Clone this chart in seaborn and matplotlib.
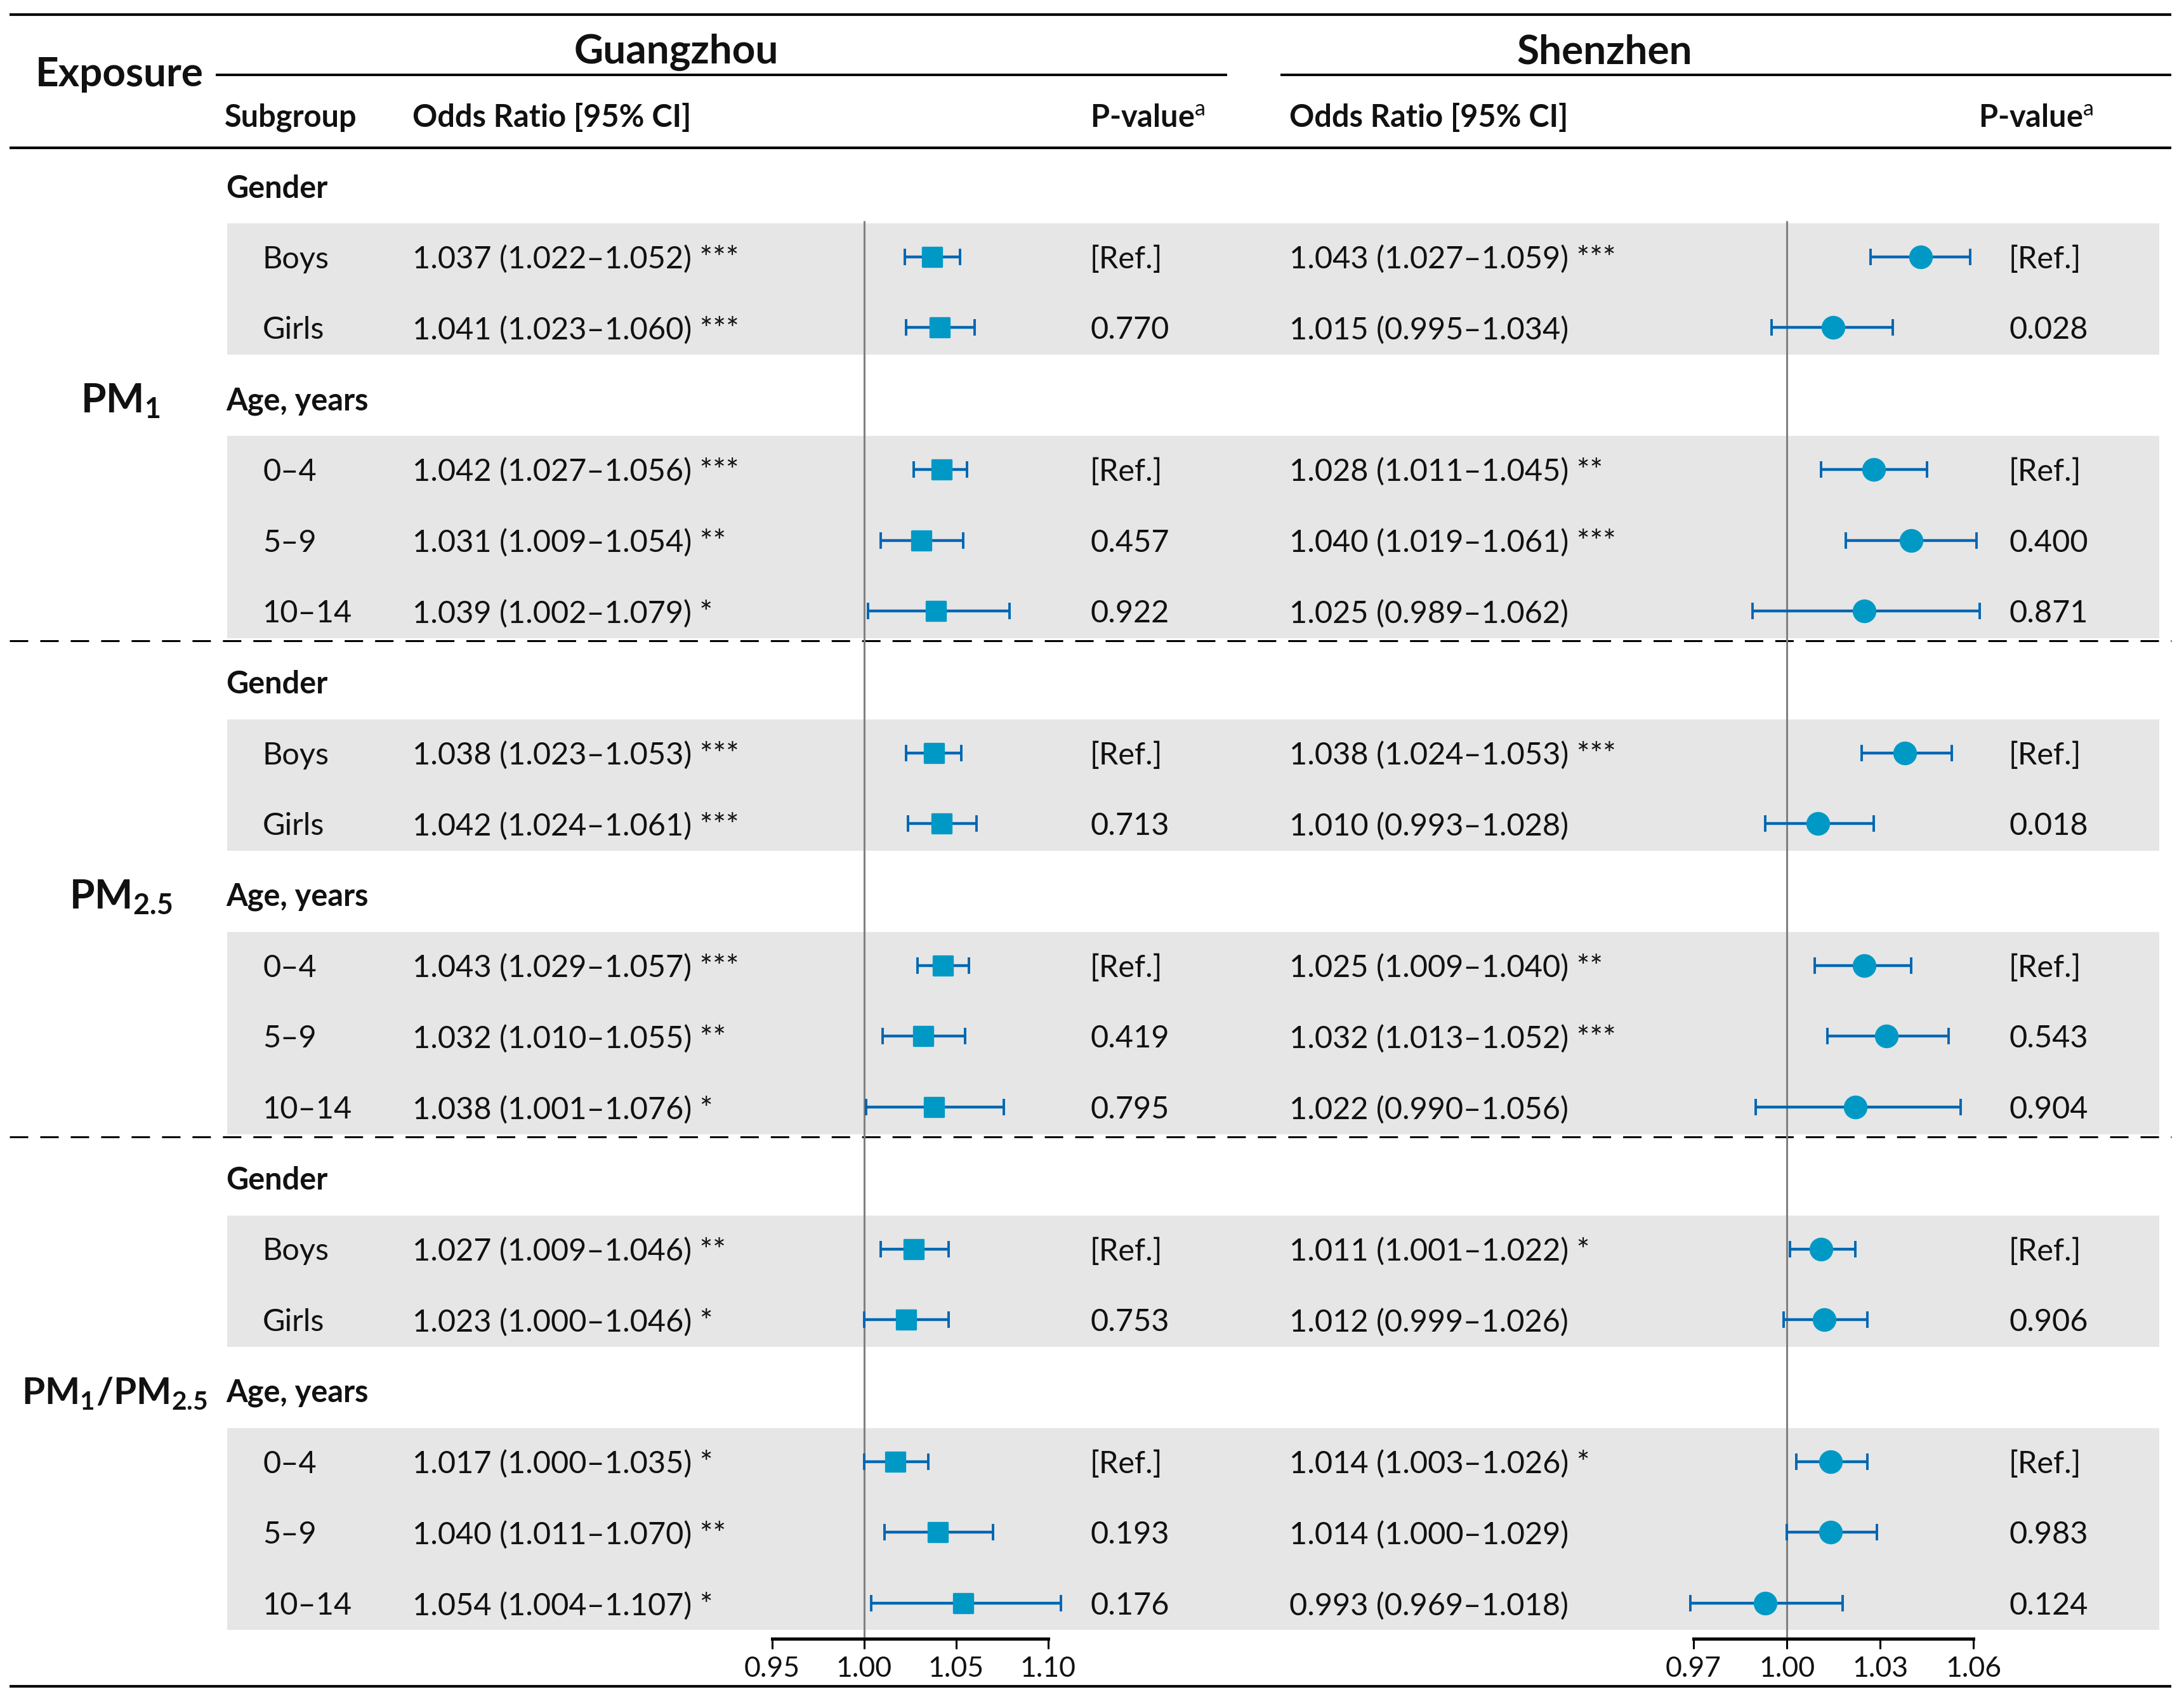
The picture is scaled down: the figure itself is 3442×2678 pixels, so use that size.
import matplotlib
matplotlib.use("Agg")
import matplotlib.pyplot as plt
import seaborn as sns
import pandas as pd
import numpy as np

exposures = [r"$\mathbf{PM_{1}}$", r"$\mathbf{PM_{2.5}}$", r"$\mathbf{PM_{1}/PM_{2.5}}$"]
groups = ["Gender", "Age, years"]
subgroups = ["Boys", "Girls", "0–4", "5–9", "10–14"]

gz_or = [1.037, 1.041, 1.042, 1.031, 1.039,
         1.038, 1.042, 1.043, 1.032, 1.038,
         1.027, 1.023, 1.017, 1.040, 1.054]
gz_lo = [1.022, 1.023, 1.027, 1.009, 1.002,
         1.023, 1.024, 1.029, 1.010, 1.001,
         1.009, 1.000, 1.000, 1.011, 1.004]
gz_hi = [1.052, 1.060, 1.056, 1.054, 1.079,
         1.053, 1.061, 1.057, 1.055, 1.076,
         1.046, 1.046, 1.035, 1.070, 1.107]
gz_sig = ["***", "***", "***", "**", "*",
          "***", "***", "***", "**", "*",
          "**", "*", "*", "**", "*"]
gz_p = ["[Ref.]", "0.770", "[Ref.]", "0.457", "0.922",
        "[Ref.]", "0.713", "[Ref.]", "0.419", "0.795",
        "[Ref.]", "0.753", "[Ref.]", "0.193", "0.176"]

sz_or = [1.043, 1.015, 1.028, 1.040, 1.025,
         1.038, 1.010, 1.025, 1.032, 1.022,
         1.011, 1.012, 1.014, 1.014, 0.993]
sz_lo = [1.027, 0.995, 1.011, 1.019, 0.989,
         1.024, 0.993, 1.009, 1.013, 0.990,
         1.001, 0.999, 1.003, 1.000, 0.969]
sz_hi = [1.059, 1.034, 1.045, 1.061, 1.062,
         1.053, 1.028, 1.040, 1.052, 1.056,
         1.022, 1.026, 1.026, 1.029, 1.018]
sz_sig = ["***", "", "**", "***", "",
          "***", "", "**", "***", "",
          "*", "", "*", "", ""]
sz_p = ["[Ref.]", "0.028", "[Ref.]", "0.400", "0.871",
        "[Ref.]", "0.018", "[Ref.]", "0.543", "0.904",
        "[Ref.]", "0.906", "[Ref.]", "0.983", "0.124"]

gz_ticks = [0.95, 1.00, 1.05, 1.10]
sz_ticks = [0.97, 1.00, 1.03, 1.06]

# ---- layout (pixels of the output image) ----
W, H, DPI = 3442, 2678, 200
ROW0, ROWH = 293, 111.7
TXT_DY = 4                      # nudge text down to sit on the row centre
sub_rows = [1, 2, 4, 5, 6]      # row offset of each subgroup inside a block
TXT = "#111111"
MARK = "#0099C6"
WHISK = "#0066B2"
BAND = "#E6E6E6"


def row_y(r):
    return ROW0 + ROWH * r


def fmt(o, l, h, s):
    return f"{o:.3f} ({l:.3f}–{h:.3f}) {s}".rstrip()


records = []
for e in range(3):
    for k, sg in enumerate(subgroups):
        i = e * 5 + k
        records.append(dict(exposure=e, subgroup=sg, y=row_y(7 * e + sub_rows[k]),
                            gz_or=gz_or[i], gz_lo=gz_lo[i], gz_hi=gz_hi[i],
                            gz_txt=fmt(gz_or[i], gz_lo[i], gz_hi[i], gz_sig[i]), gz_p=gz_p[i],
                            sz_or=sz_or[i], sz_lo=sz_lo[i], sz_hi=sz_hi[i],
                            sz_txt=fmt(sz_or[i], sz_lo[i], sz_hi[i], sz_sig[i]), sz_p=sz_p[i]))
df = pd.DataFrame(records)

sns.set_theme(style="white")
plt.rcParams["font.family"] = ["Lato", "DejaVu Sans"]
plt.rcParams["mathtext.fontset"] = "custom"
plt.rcParams["mathtext.rm"] = "Lato"
plt.rcParams["mathtext.bf"] = "Lato:bold"
plt.rcParams["mathtext.it"] = "Lato:italic"

fig = plt.figure(figsize=(W / DPI, H / DPI), dpi=DPI)
ax = fig.add_axes([0, 0, 1, 1])
ax.set_xlim(0, W)
ax.set_ylim(H, 0)
ax.axis("off")

FS, FS_BIG, FS_TICK = 17.5, 23, 16

# header
ax.hlines([23, 233, 2658], 15, 3422, color="black", lw=1.5)
ax.hlines(118, 340, 1934, color="black", lw=1.4)
ax.hlines(118, 2018, 3422, color="black", lw=1.4)
ax.text(188, 118, "Exposure", ha="center", va="center", fontsize=FS_BIG, weight="bold", color=TXT)
ax.text(1066, 82, "Guangzhou", ha="center", va="center", fontsize=FS_BIG, weight="bold", color=TXT)
ax.text(2529, 82, "Shenzhen", ha="center", va="center", fontsize=FS_BIG, weight="bold", color=TXT)
hdr = dict(va="center", fontsize=FS, weight="bold", color=TXT)
ax.text(354, 185, "Subgroup", **hdr)
ax.text(650, 185, "Odds Ratio [95% CI]", **hdr)
ax.text(1718, 185, r"P-value$^{\mathrm{a}}$", **hdr)
ax.text(2032, 185, "Odds Ratio [95% CI]", **hdr)
ax.text(3118, 185, r"P-value$^{\mathrm{a}}$", **hdr)

# grey bands, group labels, exposure labels, dashed separators
for e in range(3):
    base = 7 * e
    for g, (first, last) in enumerate([(1, 2), (4, 6)]):
        top = row_y(base + first) - 0.47 * ROWH
        bot = row_y(base + last) + 0.38 * ROWH
        ax.fill_between([358, 3403], top, bot, color=BAND, lw=0, zorder=0)
        ax.text(356, row_y(base + first - 1) + TXT_DY, groups[g], va="center", fontsize=FS,
                weight="bold", color=TXT)
    ax.text(180 if e == 2 else 190, row_y(base + 3) + TXT_DY, exposures[e], ha="center",
            va="center", fontsize=21 if e == 2 else FS_BIG, color=TXT)
    if e < 2:
        ax.hlines(row_y(base + 6) + 0.42 * ROWH, 15, 3422, color="black", lw=1.1,
                  linestyles=(0, (9.5, 6.2)))

# table text
for _, r in df.iterrows():
    kw = dict(va="center", fontsize=FS, color=TXT)
    y = r.y + TXT_DY
    ax.text(414, y, r.subgroup, **kw)
    ax.text(650, y, r.gz_txt, **kw)
    ax.text(1718, y, r.gz_p, **kw)
    ax.text(2032, y, r.sz_txt, **kw)
    ax.text(3166, y, r.sz_p, **kw)

AXIS_Y = 2583
REF_TOP = 348


def forest(px0, px1, ref_px, scale, col, marker, size, ticks):
    a = fig.add_axes([px0 / W, 0, (px1 - px0) / W, 1])
    a.patch.set_alpha(0)
    a.vlines(1.0, REF_TOP, AXIS_Y, color="#808080", lw=1.1, zorder=1)
    a.errorbar(df[col + "_or"], df["y"],
               xerr=[df[col + "_or"] - df[col + "_lo"], df[col + "_hi"] - df[col + "_or"]],
               fmt="none", ecolor=WHISK, elinewidth=1.6, capsize=4.7, capthick=1.4, zorder=2)
    sns.scatterplot(data=df, x=col + "_or", y="y", ax=a, marker=marker, s=size,
                    color=MARK, edgecolor=MARK, linewidth=1.2, zorder=3, legend=False)
    a.collections[-1].set_joinstyle("round")
    a.set_xlim(1 + (px0 - ref_px) / scale, 1 + (px1 - ref_px) / scale)
    a.set_ylim(H, 0)
    a.set_xlabel("")
    a.set_ylabel("")
    a.set_yticks([])
    for s in ["top", "left", "right"]:
        a.spines[s].set_visible(False)
    sp = a.spines["bottom"]
    sp.set_position(("data", AXIS_Y))
    sp.set_bounds(ticks[0], ticks[-1])
    sp.set_linewidth(1.8)
    sp.set_color("black")
    a.set_xticks(ticks)
    a.set_xticklabels([f"{t:.2f}" for t in ticks])
    a.tick_params(axis="x", direction="out", length=5.6, width=1.1, pad=4,
                  labelsize=FS_TICK, colors="black", bottom=True)
    for lab in a.get_xticklabels():
        lab.set_color(TXT)
    return a


forest(1100, 1800, 1361.7, 2900, "gz", "s", 120, gz_ticks)
forest(2500, 3150, 2816, 4900, "sz", "o", 150, sz_ticks)

fig.savefig("out.png", dpi=DPI)
